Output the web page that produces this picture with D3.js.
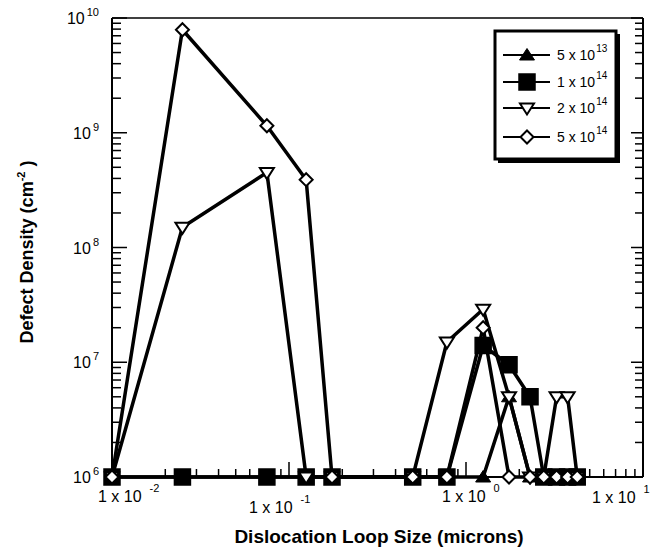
<!DOCTYPE html>
<html>
<head>
<meta charset="utf-8">
<script src="https://cdn.jsdelivr.net/npm/d3@7"></script>
<style>
  body { margin: 0; background: #fff; }
  svg { display: block; }
  text { font-family: "Liberation Sans", Arial, Helvetica, sans-serif; fill: #000; }
</style>
</head>
<body>
<svg id="chart" width="665" height="556"></svg>
<script>
// Dislocation loop size bins (microns)
const loopSizes = [0.01, 0.025, 0.075, 0.125, 0.175, 0.5, 0.78, 1.25, 1.75, 2.3, 2.75, 3.25, 3.75, 4.25];

// Defect density (cm^-2) in each bin, one array per implant dose.
// 1e6 is the bottom of the axis (no loops counted in that bin).
const dose5e13 = [1e6, 1e6, 1e6, 1e6, 1e6, 1e6, 1e6, 1e6, 5e6, 1e6, 1e6, 1e6, 1e6, 1e6];
const dose1e14 = [1e6, 1e6, 1e6, 1e6, 1e6, 1e6, 1e6, 1.4e7, 9.5e6, 5e6, 1e6, 1e6, 1e6, 1e6];
const dose2e14 = [1e6, 1.5e8, 4.5e8, 1e6, 1e6, 1e6, 1.5e7, 2.9e7, 5e6, 1e6, 1e6, 5e6, 5e6, 1e6];
const dose5e14 = [1e6, 7.9e9, 1.15e9, 3.9e8, 1e6, 1e6, 1e6, 2e7, 1e6, 1e6, 1e6, 1e6, 1e6, 1e6];

// Legend labels: mantissa x 10^exponent
const doseMantissas = ["5", "1", "2", "5"];
const doseExponents = ["13", "14", "14", "14"];

// Axis tick labels (powers of ten)
const xTickExponents = ["-2", "-1", "0", "1"];
const yTickExponents = ["6", "7", "8", "9", "10"];

const xTitle = "Dislocation Loop Size (microns)";
const yTitle = "Defect Density (cm";

const svg = d3.select("#chart");

const plot = { left: 112, right: 643, top: 18, bottom: 477 };

const x = d3.scaleLog().domain([0.01, 10]).range([plot.left, plot.right]);
const y = d3.scaleLog().domain([1e6, 1e10]).range([plot.bottom, plot.top]);

// Marker shapes, in legend order
const markerPaths = {
  triUp:   "M0,-6.5L7.5,5L-7.5,5Z",
  square:  "M-8,-8L8,-8L8,8L-8,8Z",
  triDown: "M-7,-4.5L7,-4.5L0,6.5Z",
  diamond: "M0,-6.5L6.5,0L0,6.5L-6.5,0Z"
};
const markerStyle = {
  triUp:   { fill: "#000", stroke: "#000", sw: 1 },
  square:  { fill: "#000", stroke: "#000", sw: 1.5 },
  triDown: { fill: "#fff", stroke: "#000", sw: 2 },
  diamond: { fill: "#fff", stroke: "#000", sw: 2 }
};

const series = [
  { values: dose5e13, marker: "triUp" },
  { values: dose1e14, marker: "square" },
  { values: dose2e14, marker: "triDown" },
  { values: dose5e14, marker: "diamond" }
].map((s, i) => ({
  ...s,
  mantissa: doseMantissas[i],
  exponent: doseExponents[i],
  points: loopSizes.map((v, j) => ({ size: v, density: s.values[j] }))
}));

// ---- Ticks (all pointing inward) ----
const isDecade = v => Math.abs(Math.log10(v) - Math.round(Math.log10(v))) < 1e-9;
const ticks = svg.append("g").attr("stroke", "#000").attr("stroke-width", 1.5);

y.ticks().forEach(v => {
  const py = y(v);
  const major = isDecade(v);
  ticks.append("line")
    .attr("x1", plot.left).attr("x2", plot.left + (major ? 15 : 9))
    .attr("y1", py).attr("y2", py);
  ticks.append("line")
    .attr("x1", plot.right).attr("x2", plot.right - (major ? 12 : 8))
    .attr("y1", py).attr("y2", py);
});
x.ticks().forEach(v => {
  const px = x(v);
  const major = isDecade(v);
  ticks.append("line")
    .attr("x1", px).attr("x2", px)
    .attr("y1", plot.bottom).attr("y2", plot.bottom - (major ? 15 : 8));
});

// ---- Frame ----
const frame = svg.append("g").attr("stroke", "#000").attr("fill", "none");
frame.append("line").attr("x1", plot.left).attr("x2", plot.right)
  .attr("y1", plot.top).attr("y2", plot.top).attr("stroke-width", 1.5);
frame.append("line").attr("x1", plot.left).attr("x2", plot.right)
  .attr("y1", plot.bottom).attr("y2", plot.bottom).attr("stroke-width", 2);
frame.append("line").attr("x1", plot.left).attr("x2", plot.left)
  .attr("y1", plot.top).attr("y2", plot.bottom).attr("stroke-width", 2);
frame.append("line").attr("x1", plot.right).attr("x2", plot.right)
  .attr("y1", plot.top).attr("y2", plot.bottom).attr("stroke-width", 2);

// ---- Y tick labels: 10^n ----
yTickExponents.forEach(e => {
  const t = svg.append("text")
    .attr("x", 99)
    .attr("y", y(Math.pow(10, +e)) + 6)
    .attr("text-anchor", "end")
    .attr("font-size", 16);
  t.append("tspan").text("10");
  t.append("tspan").attr("dx", 2).attr("dy", -8).attr("font-size", 11).text(e);
});

// ---- X tick labels: 1 x 10^n (hand-placed offsets from each decade tick) ----
const xLabelDx = [-14, -40, -24, -51];
const xLabelBase = [502, 513, 502, 503];
xTickExponents.forEach((e, i) => {
  const t = svg.append("text")
    .attr("x", x(Math.pow(10, +e)) + xLabelDx[i])
    .attr("y", xLabelBase[i])
    .attr("font-size", 16);
  t.append("tspan").text("1 x 10");
  t.append("tspan").attr("dx", 8).attr("dy", -10).attr("font-size", 11).text(e);
});

// ---- Axis titles ----
svg.append("text")
  .attr("x", 379).attr("y", 543)
  .attr("text-anchor", "middle")
  .attr("font-size", 19).attr("font-weight", "bold")
  .text(xTitle);

const yt = svg.append("text")
  .attr("transform", "translate(33,252) rotate(-90)")
  .attr("text-anchor", "middle")
  .attr("font-size", 18).attr("font-weight", "bold");
yt.append("tspan").text(yTitle);
yt.append("tspan").attr("dy", -8).attr("font-size", 11).text("-2");
yt.append("tspan").attr("dy", 8).text(" )");

// ---- Series lines ----
const line = d3.line().x(d => x(d.size)).y(d => y(d.density));
series.forEach(s => {
  svg.append("path")
    .datum(s.points)
    .attr("d", line)
    .attr("fill", "none")
    .attr("stroke", "#000")
    .attr("stroke-width", 3.5)
    .attr("stroke-linejoin", "round");
});

// ---- Series markers ----
series.forEach(s => {
  const st = markerStyle[s.marker];
  svg.append("g").selectAll("path")
    .data(s.points)
    .join("path")
    .attr("transform", d => `translate(${x(d.size)},${y(d.density)})`)
    .attr("d", markerPaths[s.marker])
    .attr("fill", st.fill)
    .attr("stroke", st.stroke)
    .attr("stroke-width", st.sw);
});

// ---- Legend ----
const lg = svg.append("g").attr("transform", "translate(495,31)");
lg.append("rect").attr("x", 3).attr("y", 3).attr("width", 122).attr("height", 129)
  .attr("fill", "#000");
lg.append("rect").attr("x", 0).attr("y", 0).attr("width", 121).attr("height", 128)
  .attr("fill", "#fff").attr("stroke", "#000").attr("stroke-width", 3);

const rowY = [24, 51, 77, 106];
series.forEach((s, i) => {
  const ry = rowY[i];
  lg.append("line").attr("x1", 8).attr("x2", 55).attr("y1", ry).attr("y2", ry)
    .attr("stroke", "#000").attr("stroke-width", 2);
  const st = markerStyle[s.marker];
  lg.append("path")
    .attr("transform", `translate(32,${ry})`)
    .attr("d", markerPaths[s.marker])
    .attr("fill", st.fill).attr("stroke", st.stroke).attr("stroke-width", st.sw);
  const t = lg.append("text").attr("x", 62).attr("y", ry + 5).attr("font-size", 14);
  t.append("tspan").text(`${s.mantissa} x 10`);
  t.append("tspan").attr("dx", 1).attr("dy", -8).attr("font-size", 10).text(s.exponent);
});
</script>
</body>
</html>
